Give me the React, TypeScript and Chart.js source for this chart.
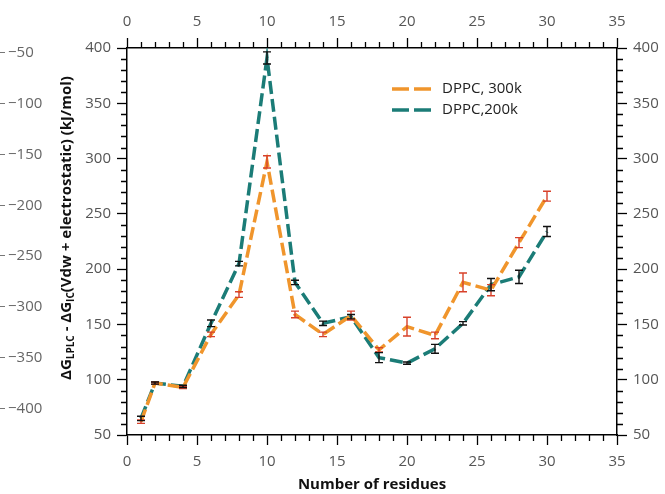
import React, { useEffect, useRef } from 'react';
import { Chart, registerables } from 'chart.js';

Chart.register(...registerables);

// ---- data ----
const RESIDUES = [1, 2, 4, 6, 8, 10, 12, 14, 16, 18, 20, 22, 24, 26, 28, 30];
const DPPC_300K = [62, 97, 93, 141, 177, 297, 159, 141, 158, 127, 148, 140, 188, 181, 224, 266];
const DPPC_300K_ERR = [1.5, 1, 1, 2, 2.5, 5.5, 3, 2, 4, 2, 8.5, 3, 8.5, 5, 4.5, 4.5];
const DPPC_200K = [65, 97, 94, 151, 205, 391, 188, 151, 157, 120, 115, 128, 151, 186, 193, 234];
const DPPC_200K_ERR = [2, 1, 1, 3, 2, 5.5, 2, 2, 2, 4.5, 1, 4, 1.5, 5.5, 6, 4.5];
const SERIES_LABELS = ['DPPC, 300k', 'DPPC,200k'];
const OUTER_TICKS = [-50, -100, -150, -200, -250, -300, -350, -400];
const X_LABEL = 'Number of residues';
const Y_LABEL_PARTS: [string, boolean][] = [
  ['\u0394G', false],
  ['LPLC', true],
  [' - \u0394G', false],
  ['IC', true],
  ['(Vdw + electrostatic) (kJ/mol)', false],
];

const ORANGE = '#f0952c';
const TEAL = '#1b7c77';
const ERR_COLORS = ['#d8412a', '#111111'];
const FONT = "'Open Sans', 'DejaVu Sans', sans-serif";
const TICK_COLOR = '#555555';

export default function App() {
  const ref = useRef<HTMLCanvasElement>(null);

  useEffect(() => {
    const canvas = ref.current;
    if (!canvas) return;

    const errSets = [
      { vals: DPPC_300K, errs: DPPC_300K_ERR },
      { vals: DPPC_200K, errs: DPPC_200K_ERR },
    ];

    const errorBars = {
      id: 'errorBars',
      afterDatasetsDraw(chart: any) {
        const ctx = chart.ctx;
        const xs = chart.scales.x;
        const ys = chart.scales.y;
        ctx.save();
        errSets.forEach((s, i) => {
          ctx.strokeStyle = ERR_COLORS[i];
          ctx.lineWidth = 1.4;
          RESIDUES.forEach((r, j) => {
            const px = xs.getPixelForValue(r);
            const top = ys.getPixelForValue(s.vals[j] + s.errs[j]);
            const bot = ys.getPixelForValue(s.vals[j] - s.errs[j]);
            ctx.beginPath();
            ctx.moveTo(px, top);
            ctx.lineTo(px, bot);
            ctx.moveTo(px - 4, top);
            ctx.lineTo(px + 4, top);
            ctx.moveTo(px - 4, bot);
            ctx.lineTo(px + 4, bot);
            ctx.stroke();
          });
        });
        ctx.restore();
      },
    };

    const decor = {
      id: 'decor',
      afterDraw(chart: any) {
        const ctx = chart.ctx;
        const area = chart.chartArea;
        const xs = chart.scales.x;
        const ys = chart.scales.y;
        const y3 = chart.scales.y3;
        ctx.save();
        // minor ticks
        ctx.strokeStyle = '#000';
        ctx.lineWidth = 1.3;
        ctx.beginPath();
        for (let v = 0; v <= 35; v += 1) {
          if (v % 5 === 0) continue;
          const px = Math.round(xs.getPixelForValue(v)) + 0.5;
          ctx.moveTo(px, area.bottom);
          ctx.lineTo(px, area.bottom + 6);
          ctx.moveTo(px, area.top);
          ctx.lineTo(px, area.top - 6);
        }
        for (let v = 50; v <= 400; v += 10) {
          if (v % 50 === 0) continue;
          const py = Math.round(ys.getPixelForValue(v)) + 0.5;
          ctx.moveTo(area.left, py);
          ctx.lineTo(area.left - 6, py);
          ctx.moveTo(area.right, py);
          ctx.lineTo(area.right + 6, py);
        }
        ctx.stroke();

        // outer (cropped) left axis
        ctx.strokeStyle = '#777';
        ctx.lineWidth = 1;
        ctx.fillStyle = '#666';
        ctx.font = `15px ${FONT}`;
        ctx.textAlign = 'left';
        ctx.textBaseline = 'middle';
        OUTER_TICKS.forEach((v) => {
          const py = Math.round(y3.getPixelForValue(v)) + 0.5;
          ctx.beginPath();
          ctx.moveTo(0, py);
          ctx.lineTo(5, py);
          ctx.stroke();
          ctx.fillText(String(v).replace('-', '\u2212'), 8, py);
        });

        // y-axis title with subscripts
        const big = `bold 15px ${FONT}`;
        const small = `bold 10px ${FONT}`;
        let total = 0;
        const widths = Y_LABEL_PARTS.map(([t, sub]) => {
          ctx.font = sub ? small : big;
          const w = ctx.measureText(t).width;
          total += w;
          return w;
        });
        ctx.translate(67, 228);
        ctx.rotate(-Math.PI / 2);
        ctx.fillStyle = '#111';
        ctx.textAlign = 'left';
        ctx.textBaseline = 'middle';
        let cx = -total / 2;
        Y_LABEL_PARTS.forEach(([t, sub], i) => {
          ctx.font = sub ? small : big;
          ctx.fillText(t, cx, sub ? 4 : 0);
          cx += widths[i];
        });
        ctx.setTransform(1, 0, 0, 1, 0, 0);

        // legend
        const colors = [ORANGE, TEAL];
        const rows = [89, 110];
        SERIES_LABELS.forEach((lab, i) => {
          ctx.strokeStyle = colors[i];
          ctx.lineWidth = 3.5;
          ctx.setLineDash([17, 5]);
          ctx.beginPath();
          ctx.moveTo(392, rows[i]);
          ctx.lineTo(431, rows[i]);
          ctx.stroke();
          ctx.setLineDash([]);
          ctx.fillStyle = '#222';
          ctx.font = `15px ${FONT}`;
          ctx.textAlign = 'left';
          ctx.textBaseline = 'middle';
          ctx.fillText(lab, 442, rows[i]);
        });
        ctx.restore();
      },
    };

    const tickFont = { family: FONT, size: 15 };
    const majorGrid = {
      drawOnChartArea: false,
      drawTicks: true,
      tickLength: 10,
      tickColor: '#000',
      tickWidth: 1.3,
    };
    const border = { display: true, color: '#000', width: 1.5 };

    const chart = new Chart(canvas, {
      type: 'line',
      data: {
        datasets: [
          {
            label: SERIES_LABELS[0],
            data: RESIDUES.map((r, i) => ({ x: r, y: DPPC_300K[i] })),
            borderColor: ORANGE,
            borderWidth: 3.5,
            borderDash: [13, 5],
            pointRadius: 0,
            fill: false,
            tension: 0,
            yAxisID: 'y',
            xAxisID: 'x',
          },
          {
            label: SERIES_LABELS[1],
            data: RESIDUES.map((r, i) => ({ x: r, y: DPPC_200K[i] })),
            borderColor: TEAL,
            borderWidth: 3.5,
            borderDash: [13, 5],
            pointRadius: 0,
            fill: false,
            tension: 0,
            yAxisID: 'y',
            xAxisID: 'x',
          },
        ],
      },
      options: {
        responsive: false,
        animation: false,
        devicePixelRatio: 1,
        layout: { padding: 0 },
        plugins: {
          legend: { display: false },
          tooltip: { enabled: false },
          title: { display: false },
        },
        scales: {
          x: {
            type: 'linear',
            position: 'bottom',
            min: 0,
            max: 35,
            ticks: { stepSize: 5, color: TICK_COLOR, font: tickFont, padding: 8, maxRotation: 0 },
            grid: majorGrid,
            border,
            title: {
              display: true,
              text: X_LABEL,
              color: '#111',
              font: { family: FONT, size: 15, weight: 'bold' },
              padding: { top: 0, bottom: 0 },
            },
            afterFit(s: any) { s.height = 59; },
          },
          x2: {
            type: 'linear',
            position: 'top',
            min: 0,
            max: 35,
            ticks: { stepSize: 5, color: TICK_COLOR, font: tickFont, padding: 7, maxRotation: 0 },
            grid: majorGrid,
            border,
            afterFit(s: any) { s.height = 48; },
          },
          y: {
            type: 'linear',
            position: 'left',
            min: 50,
            max: 400,
            ticks: { stepSize: 50, color: TICK_COLOR, font: tickFont, padding: 6 },
            grid: majorGrid,
            border,
            afterFit(s: any) { s.width = 127; },
          },
          y2: {
            type: 'linear',
            position: 'right',
            min: 50,
            max: 400,
            ticks: { stepSize: 50, color: TICK_COLOR, font: tickFont, padding: 6 },
            grid: majorGrid,
            border,
            afterFit(s: any) { s.width = 48; },
          },
          y3: {
            type: 'linear',
            display: false,
            position: 'left',
            min: -426.5,
            max: -46.1,
          },
        },
      } as any,
      plugins: [errorBars, decor],
    });

    return () => chart.destroy();
  }, []);

  return (
    <div style={{ position: 'absolute', left: 0, top: 0, width: 665, height: 494, background: '#fff' }}>
      <canvas ref={ref} width={665} height={494} style={{ display: 'block', width: 665, height: 494 }} />
    </div>
  );
}
